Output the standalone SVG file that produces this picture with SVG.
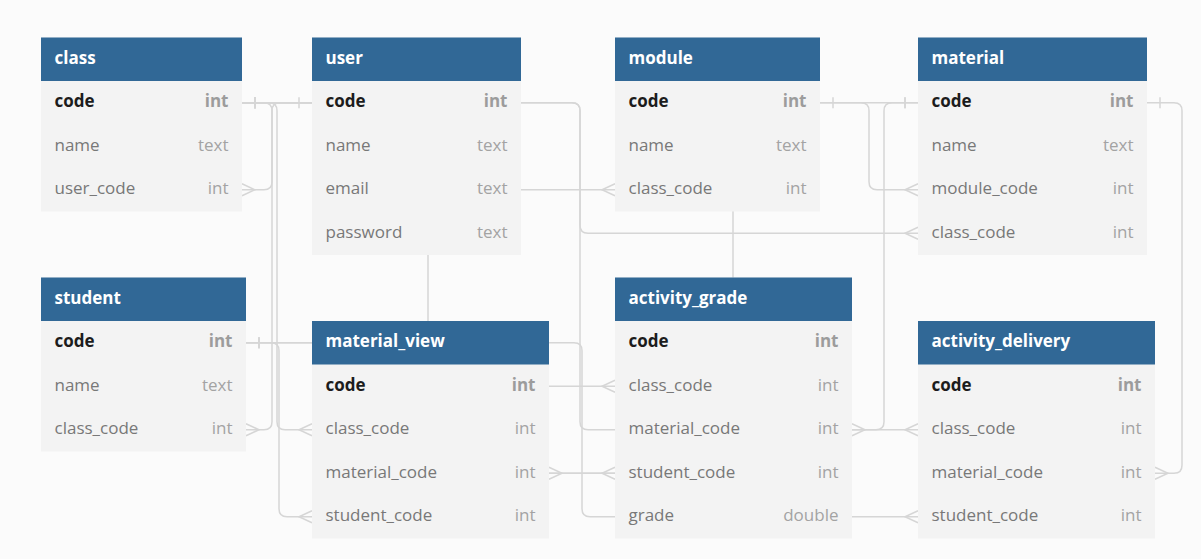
<svg xmlns="http://www.w3.org/2000/svg" width="1201" height="559" viewBox="0 0 1201 559">
<style>
text{font-family:"Open Sans","Noto Sans","Liberation Sans",sans-serif;font-size:17px}
.hd{fill:#316896}
.rw{fill:#f3f3f3}
.ht{fill:#ffffff;font-weight:bold}
.pk{fill:#1c1c1c;font-weight:bold}
.pt{fill:#9c9c9c;font-weight:bold;text-anchor:end}
.fn{fill:#787878}
.ft{fill:#a3a3a3;text-anchor:end}
.ln{fill:none;stroke:#d6d6d6;stroke-width:1.5}
.one{marker-start:url(#one)}
.many{marker-end:url(#many)}
</style>
<defs>
<marker id="one" markerUnits="userSpaceOnUse" orient="auto-start-reverse" markerWidth="20" markerHeight="20" refX="0" refY="0" overflow="visible">
<path d="M -13 -5.5 V 5.5" fill="none" stroke="#d6d6d6" stroke-width="1.5"/>
</marker>
<marker id="many" markerUnits="userSpaceOnUse" orient="auto-start-reverse" markerWidth="20" markerHeight="20" refX="0" refY="0" overflow="visible">
<path d="M 0 -6 L -13 0 L 0 6" fill="none" stroke="#d6d6d6" stroke-width="1.5"/>
</marker>
</defs>
<rect x="0" y="0" width="1201" height="559" fill="#fbfbfb"/>
<g id="connectors">
<path class="ln one many" d="M 312 102.75 H 280 Q 272 102.75 272 110.75 V 181.75 Q 272 189.75 264 189.75 H 242"/>
<path class="ln one many" d="M 242 102.75 H 264 Q 272 102.75 272 110.75 V 421.75 Q 272 429.75 264 429.75 H 246"/>
<path class="ln one many" d="M 242 102.75 H 269 Q 277 102.75 277 110.75 V 421.75 Q 277 429.75 285 429.75 H 312"/>
<path class="ln one many" d="M 246 342.75 H 271 Q 279 342.75 279 350.75 V 508.75 Q 279 516.75 287 516.75 H 312"/>
<path class="ln one many" d="M 246 342.75 H 574 Q 582 342.75 582 350.75 V 508.75 Q 582 516.75 590 516.75 H 918"/>
<path class="ln one many" d="M 246 342.75 H 492 Q 500 342.75 500 350.75 V 465.25 Q 500 473.25 508 473.25 H 615"/>
<path class="ln one many" d="M 242 102.75 H 572 Q 580 102.75 580 110.75 V 225.25 Q 580 233.25 588 233.25 H 918"/>
<path class="ln one many" d="M 242 102.75 H 572 Q 580 102.75 580 110.75 V 421.75 Q 580 429.75 588 429.75 H 918"/>
<path class="ln one many" d="M 242 102.75 H 420 Q 428 102.75 428 110.75 V 378.25 Q 428 386.25 436 386.25 H 615"/>
<path class="ln one many" d="M 242 102.75 H 400 Q 408 102.75 408 110.75 V 181.75 Q 408 189.75 416 189.75 H 615"/>
<path class="ln one many" d="M 918 102.75 H 741 Q 733 102.75 733 110.75 V 465.25 Q 733 473.25 725 473.25 H 549"/>
<path class="ln one many" d="M 918 102.75 H 892 Q 884 102.75 884 110.75 V 421.75 Q 884 429.75 876 429.75 H 852"/>
<path class="ln one many" d="M 820 102.75 H 861 Q 869 102.75 869 110.75 V 181.75 Q 869 189.75 877 189.75 H 918"/>
<path class="ln one many" d="M 1147 102.75 H 1174 Q 1182 102.75 1182 110.75 V 465.25 Q 1182 473.25 1174 473.25 H 1155"/>
</g>
<g id="class">
<rect class="rw" x="41" y="37.5" width="201" height="174"/>
<rect class="hd" x="41" y="37.5" width="201" height="43.5"/>
<text class="ht" x="54.5" y="63.75">class</text>
<text class="pk" x="54.5" y="107.25">code</text><text class="pt" x="228.5" y="107.25">int</text>
<text class="fn" x="54.5" y="150.75">name</text><text class="ft" x="228.5" y="150.75">text</text>
<text class="fn" x="54.5" y="194.25">user_code</text><text class="ft" x="228.5" y="194.25">int</text>
</g>
<g id="user">
<rect class="rw" x="312" y="37.5" width="209" height="217.5"/>
<rect class="hd" x="312" y="37.5" width="209" height="43.5"/>
<text class="ht" x="325.5" y="63.75">user</text>
<text class="pk" x="325.5" y="107.25">code</text><text class="pt" x="507.5" y="107.25">int</text>
<text class="fn" x="325.5" y="150.75">name</text><text class="ft" x="507.5" y="150.75">text</text>
<text class="fn" x="325.5" y="194.25">email</text><text class="ft" x="507.5" y="194.25">text</text>
<text class="fn" x="325.5" y="237.75">password</text><text class="ft" x="507.5" y="237.75">text</text>
</g>
<g id="module">
<rect class="rw" x="615" y="37.5" width="205" height="174"/>
<rect class="hd" x="615" y="37.5" width="205" height="43.5"/>
<text class="ht" x="628.5" y="63.75">module</text>
<text class="pk" x="628.5" y="107.25">code</text><text class="pt" x="806.5" y="107.25">int</text>
<text class="fn" x="628.5" y="150.75">name</text><text class="ft" x="806.5" y="150.75">text</text>
<text class="fn" x="628.5" y="194.25">class_code</text><text class="ft" x="806.5" y="194.25">int</text>
</g>
<g id="material">
<rect class="rw" x="918" y="37.5" width="229" height="217.5"/>
<rect class="hd" x="918" y="37.5" width="229" height="43.5"/>
<text class="ht" x="931.5" y="63.75">material</text>
<text class="pk" x="931.5" y="107.25">code</text><text class="pt" x="1133.5" y="107.25">int</text>
<text class="fn" x="931.5" y="150.75">name</text><text class="ft" x="1133.5" y="150.75">text</text>
<text class="fn" x="931.5" y="194.25">module_code</text><text class="ft" x="1133.5" y="194.25">int</text>
<text class="fn" x="931.5" y="237.75">class_code</text><text class="ft" x="1133.5" y="237.75">int</text>
</g>
<g id="student">
<rect class="rw" x="41" y="277.5" width="205" height="174"/>
<rect class="hd" x="41" y="277.5" width="205" height="43.5"/>
<text class="ht" x="54.5" y="303.75">student</text>
<text class="pk" x="54.5" y="347.25">code</text><text class="pt" x="232.5" y="347.25">int</text>
<text class="fn" x="54.5" y="390.75">name</text><text class="ft" x="232.5" y="390.75">text</text>
<text class="fn" x="54.5" y="434.25">class_code</text><text class="ft" x="232.5" y="434.25">int</text>
</g>
<g id="material_view">
<rect class="rw" x="312" y="321" width="237" height="217.5"/>
<rect class="hd" x="312" y="321" width="237" height="43.5"/>
<text class="ht" x="325.5" y="347.25">material_view</text>
<text class="pk" x="325.5" y="390.75">code</text><text class="pt" x="535.5" y="390.75">int</text>
<text class="fn" x="325.5" y="434.25">class_code</text><text class="ft" x="535.5" y="434.25">int</text>
<text class="fn" x="325.5" y="477.75">material_code</text><text class="ft" x="535.5" y="477.75">int</text>
<text class="fn" x="325.5" y="521.25">student_code</text><text class="ft" x="535.5" y="521.25">int</text>
</g>
<g id="activity_grade">
<rect class="rw" x="615" y="277.5" width="237" height="261"/>
<rect class="hd" x="615" y="277.5" width="237" height="43.5"/>
<text class="ht" x="628.5" y="303.75">activity_grade</text>
<text class="pk" x="628.5" y="347.25">code</text><text class="pt" x="838.5" y="347.25">int</text>
<text class="fn" x="628.5" y="390.75">class_code</text><text class="ft" x="838.5" y="390.75">int</text>
<text class="fn" x="628.5" y="434.25">material_code</text><text class="ft" x="838.5" y="434.25">int</text>
<text class="fn" x="628.5" y="477.75">student_code</text><text class="ft" x="838.5" y="477.75">int</text>
<text class="fn" x="628.5" y="521.25">grade</text><text class="ft" x="838.5" y="521.25">double</text>
</g>
<g id="activity_delivery">
<rect class="rw" x="918" y="321" width="237" height="217.5"/>
<rect class="hd" x="918" y="321" width="237" height="43.5"/>
<text class="ht" x="931.5" y="347.25">activity_delivery</text>
<text class="pk" x="931.5" y="390.75">code</text><text class="pt" x="1141.5" y="390.75">int</text>
<text class="fn" x="931.5" y="434.25">class_code</text><text class="ft" x="1141.5" y="434.25">int</text>
<text class="fn" x="931.5" y="477.75">material_code</text><text class="ft" x="1141.5" y="477.75">int</text>
<text class="fn" x="931.5" y="521.25">student_code</text><text class="ft" x="1141.5" y="521.25">int</text>
</g>
</svg>
